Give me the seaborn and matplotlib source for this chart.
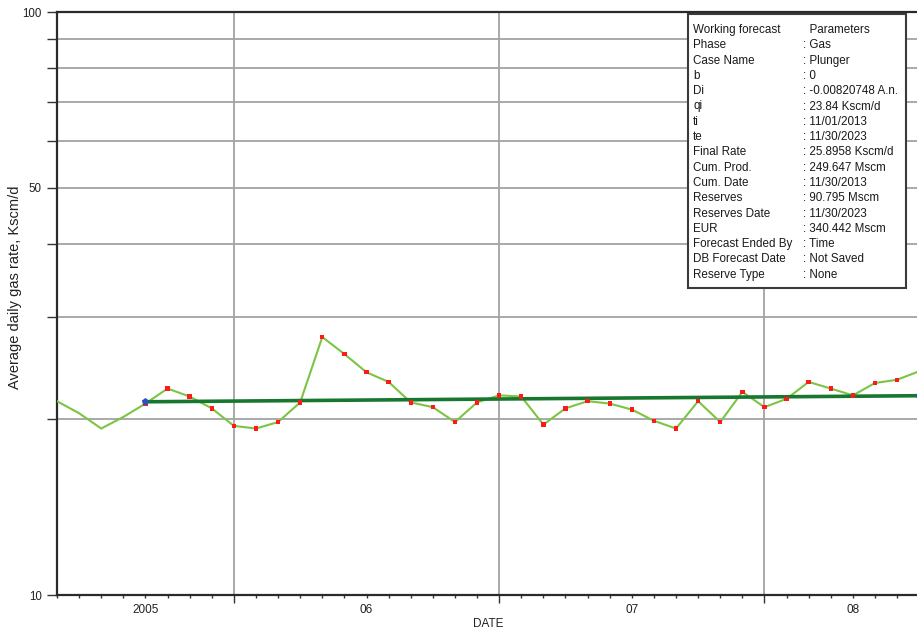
import matplotlib
matplotlib.use("Agg")
import matplotlib.pyplot as plt
from matplotlib.patches import Rectangle
from matplotlib.ticker import FixedLocator, FixedFormatter, FuncFormatter, NullLocator
import numpy as np
import pandas as pd
import seaborn as sns

# Monthly production history (month offset from the first year gridline)
month = list(range(-8, 32))
gas_rate = [21.5, 20.5, 19.3, 20.2, 21.3, 22.6, 21.9, 20.9, 19.5, 19.3,
            19.8, 21.4, 27.7, 25.9, 24.1, 23.2, 21.4, 21.0, 19.8, 21.4,
            22.0, 21.9, 19.6, 20.9, 21.5, 21.3, 20.8, 19.9, 19.3, 21.5,
            19.8, 22.3, 21.0, 21.7, 23.2, 22.6, 22.0, 23.1, 23.4, 24.2]
first_marked_month = -4

# Working forecast (start and end of the fitted exponential)
forecast_month = [-4, 31]
forecast_rate = [21.45, 21.97]

# Axis annotation
year_lines = [0, 12, 24]
year_label_months = [-4, 6, 18, 28]
year_labels = ["2005", "06", "07", "08"]
y_ticks = [10, 20, 30, 40, 50, 60, 70, 80, 90, 100]
y_tick_labels = ["10", "", "", "", "50", "", "", "", "", "100"]

params_keys = ["Working forecast", "Phase", "Case Name", "b", "Di", "qi", "ti", "te",
               "Final Rate", "Cum. Prod.", "Cum. Date", "Reserves", "Reserves Date",
               "EUR", "Forecast Ended By", "DB Forecast Date", "Reserve Type"]
params_vals = ["  Parameters", ": Gas", ": Plunger", ": 0", ": -0.00820748 A.n.",
               ": 23.84 Kscm/d", ": 11/01/2013", ": 11/30/2023", ": 25.8958 Kscm/d",
               ": 249.647 Mscm", ": 11/30/2013", ": 90.795 Mscm", ": 11/30/2023",
               ": 340.442 Mscm", ": Time", ": Not Saved", ": None"]

sns.set_style("white")
plt.rcParams["font.family"] = ["Liberation Sans", "DejaVu Sans"]

W, H = 917, 634
fig = plt.figure(figsize=(W / 100, H / 100), dpi=100)
ax = fig.add_axes([57 / W, 1 - 595 / H, (917 - 57) / W, (595 - 12) / H])

hist = pd.DataFrame({"month": month, "rate": gas_rate})
marked = hist[hist["month"] >= first_marked_month]
fc = pd.DataFrame({"month": forecast_month, "rate": forecast_rate})

ax.set_yscale("log")

sns.lineplot(data=hist, x="month", y="rate", ax=ax, color="#7cc444",
             linewidth=1.5, zorder=3)
sns.lineplot(data=fc, x="month", y="rate", ax=ax, color="#17772e",
             linewidth=2.6, zorder=4)
sns.scatterplot(data=marked, x="month", y="rate", ax=ax, color="#ff1a1a",
                marker="s", s=10, edgecolor="none", zorder=5)
sns.scatterplot(data=fc, x="month", y="rate", ax=ax, color="#2c4fc4",
                marker="p", s=30, edgecolor="none", zorder=6, clip_on=True)

ax.set_xlim(-8.0, 30.9)
ax.set_ylim(10, 100)

# y axis: gridlines at every decade step, labels at 10, 50, 100
ax.yaxis.set_major_locator(FixedLocator(y_ticks))
ax.yaxis.set_major_formatter(FixedFormatter(y_tick_labels))
ax.yaxis.set_minor_locator(NullLocator())
ax.tick_params(axis="y", which="major", left=True, direction="out", length=7.5,
               width=1.0, color="#333333", pad=3.5, labelsize=8.3,
               labelcolor="#222222")

# x axis: year gridlines, monthly minor ticks, year labels
def month_label(value, pos):
    m = int(round(value))
    return year_labels[year_label_months.index(m)] if m in year_label_months else ""

ax.xaxis.set_major_locator(FixedLocator(year_lines))
ax.xaxis.set_major_formatter(FuncFormatter(lambda v, p: ""))
ax.xaxis.set_minor_locator(FixedLocator(month))
ax.xaxis.set_minor_formatter(FuncFormatter(month_label))
ax.tick_params(axis="x", which="major", bottom=True, direction="out", length=6,
               width=1.0, color="#333333")
ax.tick_params(axis="x", which="minor", bottom=True, direction="out", length=2.5,
               width=1.0, color="#333333", pad=4, labelsize=8.5,
               labelcolor="#222222")

ax.grid(True, which="major", axis="both", color="#a3a3a3", linewidth=1.3)
ax.set_axisbelow(True)

for side in ["left", "bottom", "top"]:
    ax.spines[side].set_visible(True)
    ax.spines[side].set_color("#2a2a2a")
    ax.spines[side].set_linewidth(1.6)
ax.spines["right"].set_visible(False)

ax.set_xlabel("")
ax.set_ylabel("")
fig.text(488 / W, 1 - 624 / H, "DATE", ha="center", va="center",
         fontsize=8.5, color="#222222")
fig.text(15 / W, 1 - 287 / H, "Average daily gas rate, Kscm/d", rotation=90,
         ha="center", va="center", fontsize=10.5, color="#222222")

# Parameter box
bx0, by0, bx1, by1 = 688, 14, 906, 288
fig.add_artist(Rectangle((bx0 / W, 1 - by1 / H), (bx1 - bx0) / W, (by1 - by0) / H,
                         transform=fig.transFigure, facecolor="white",
                         edgecolor="#3a3a3a", linewidth=1.5, zorder=10))
row0, row_step = 30, 15.3
for i, (k, v) in enumerate(zip(params_keys, params_vals)):
    yy = 1 - (row0 + i * row_step) / H
    fig.text(693 / W, yy, k, ha="left", va="center", fontsize=8.4,
             color="#1a1a1a", zorder=11)
    fig.text(803 / W, yy, v, ha="left", va="center", fontsize=8.4,
             color="#1a1a1a", zorder=11)

fig.savefig("out.png", dpi=100, facecolor="white")
